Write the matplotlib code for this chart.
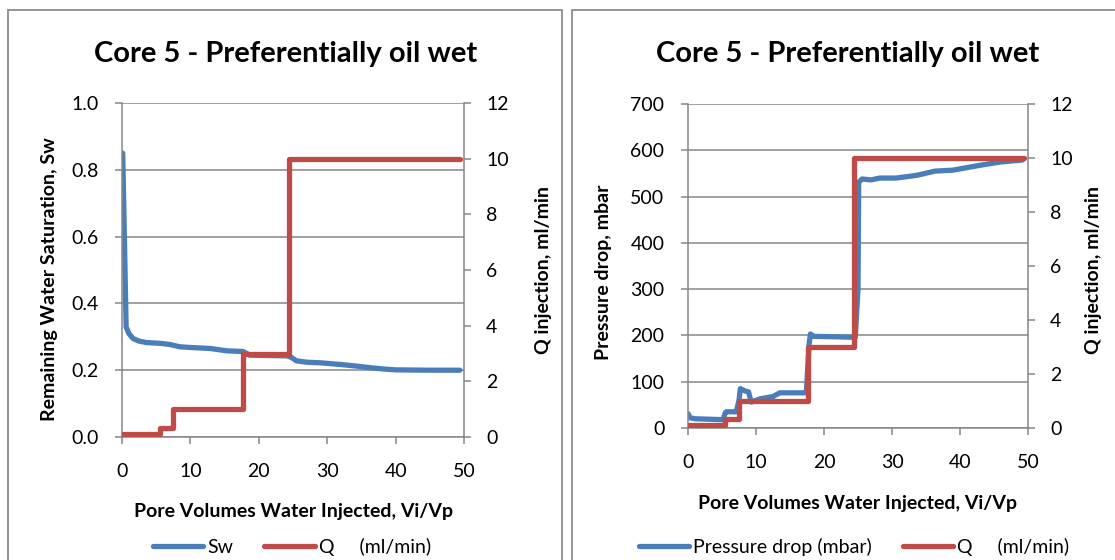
import matplotlib
matplotlib.use('Agg')
import matplotlib.pyplot as plt
from matplotlib.patches import Rectangle

plt.rcParams['font.family'] = ['Lato', 'DejaVu Sans']

# pore volumes injected vs remaining water saturation
sw_x = [0.1, 0.35, 0.6, 1.0, 1.6, 2.5, 3.5, 5.8, 7.0, 8.5, 10, 12.9, 15.3, 17.7,
        18.7, 21, 24.1, 24.8, 25.5, 27, 29.1, 32, 34.4, 36.5, 38.6, 40, 45, 49.4]
sw_y = [0.85, 0.6, 0.33, 0.31, 0.295, 0.287, 0.283, 0.28, 0.277, 0.27, 0.268, 0.265,
        0.258, 0.256, 0.245, 0.244, 0.243, 0.238, 0.228, 0.224, 0.222, 0.217, 0.212,
        0.207, 0.203, 0.201, 0.2, 0.2]

# pressure drop (mbar)
dp_x = [0.0, 0.3, 1.0, 3.0, 5.2, 5.4, 5.6, 7.1, 7.5, 7.7, 8.4, 8.9, 9.3, 10.6, 12.5,
        13.5, 17.4, 17.8, 18.0, 18.5, 22.0, 24.6, 25.0, 25.1, 25.6, 26.9, 28.2, 30.6,
        33.7, 36.3, 38.9, 43.5, 46.1, 49.2]
dp_y = [31, 22, 20, 19, 18, 30, 35, 35, 60, 85, 80, 78, 56, 63, 68, 76, 76, 180, 203,
        198, 197, 196, 300, 531, 538, 536, 540, 540, 546, 555, 557, 569, 575, 579]

# injection rate steps, ml/min
q_x = [0.1, 5.5, 7.5, 17.7, 24.4, 49.4]
q_y = [0.12, 0.32, 1.0, 3.0, 10.0, 10.0]

blue = '#4A7EBB'
red = '#BE4B48'
grey = '#868686'

W, H = 1115, 560
fig = plt.figure(figsize=(W / 100, H / 100), dpi=100)

TICK = 14
LAB = 14
TITLE = 21


def fx(px):
    return px / W


def fy(py):
    return 1 - py / H


def make_axes(box, y1lim, y1ticks, y1fmt):
    l, t, r, b = box
    ax = fig.add_axes([fx(l), fy(b), fx(r) - fx(l), fy(t) - fy(b)])
    ax.set_xlim(0, 50)
    ax.set_ylim(*y1lim)
    ax.set_xticks([0, 10, 20, 30, 40, 50])
    ax.set_yticks(y1ticks)
    ax.set_yticklabels([y1fmt.format(v) for v in y1ticks])
    ax.grid(axis='y', color=grey, lw=1.1)
    ax.set_axisbelow(True)
    for s in ['top', 'right']:
        ax.spines[s].set_visible(False)
    for s in ['left', 'bottom']:
        ax.spines[s].set_color(grey)
        ax.spines[s].set_linewidth(1.1)
    ax.tick_params(axis='y', direction='out', length=5, width=1.1, color=grey,
                   labelsize=TICK, pad=12)
    ax.tick_params(axis='x', direction='out', length=5, width=1.1, color=grey,
                   labelsize=TICK, pad=14)
    ax2 = ax.twinx()
    ax2.set_ylim(0, 12)
    ax2.set_yticks([0, 2, 4, 6, 8, 10, 12])
    for s in ['top', 'left', 'bottom']:
        ax2.spines[s].set_visible(False)
    ax2.spines['right'].set_color(grey)
    ax2.spines['right'].set_linewidth(1.1)
    ax2.tick_params(axis='y', direction='out', length=5, width=1.1, color=grey,
                    labelsize=TICK, pad=11)
    return ax, ax2


line_kw = dict(lw=3.8, solid_capstyle='round', solid_joinstyle='round')
leg_kw = dict(loc='center', ncol=2, frameon=False, fontsize=TICK, handlelength=2.6,
              handletextpad=0.2, columnspacing=1.6, borderpad=0)
q_label = 'Q     (ml/min)'

# ---- left panel
ax, ax2 = make_axes((122, 103, 464, 437), (0, 1), [0, 0.2, 0.4, 0.6, 0.8, 1.0], '{:.1f}')
l1, = ax.plot(sw_x, sw_y, color=blue, label='Sw', **line_kw)
l2, = ax2.plot(q_x, q_y, color=red, drawstyle='steps-post', label=q_label, **line_kw)
fig.text(fx(286), fy(62), 'Core 5 - Preferentially oil wet', ha='center', va='baseline',
         fontsize=TITLE, fontweight='bold')
fig.text(fx(50), fy(279), 'Remaining Water Saturation, Sw', rotation=90, ha='center',
         va='center', fontsize=LAB, fontweight='bold')
fig.text(fx(543), fy(270), 'Q injection, ml/min', rotation=90, ha='center',
         va='center', fontsize=LAB, fontweight='bold')
fig.text(fx(293), fy(517), 'Pore Volumes Water Injected, Vi/Vp', ha='center',
         va='baseline', fontsize=LAB, fontweight='bold')
fig.legend(handles=[l1, l2], bbox_to_anchor=(fx(292), fy(547)), **leg_kw)

# ---- right panel
bx, bx2 = make_axes((688, 104, 1028, 428), (0, 700), list(range(0, 701, 100)), '{:.0f}')
l3, = bx.plot(dp_x, dp_y, color=blue, label='Pressure drop (mbar)', **line_kw)
l4, = bx2.plot(q_x, q_y, color=red, drawstyle='steps-post', label=q_label, **line_kw)
fig.text(fx(848), fy(62), 'Core 5 - Preferentially oil wet', ha='center', va='baseline',
         fontsize=TITLE, fontweight='bold')
fig.text(fx(603), fy(272), 'Pressure drop, mbar', rotation=90, ha='center',
         va='center', fontsize=LAB, fontweight='bold')
fig.text(fx(1093), fy(270), 'Q injection, ml/min', rotation=90, ha='center',
         va='center', fontsize=LAB, fontweight='bold')
fig.text(fx(858), fy(509), 'Pore Volumes Water Injected, Vi/Vp', ha='center',
         va='baseline', fontsize=LAB, fontweight='bold')
fig.legend(handles=[l3, l4], bbox_to_anchor=(fx(854), fy(547)), **leg_kw)

# chart area borders
for x0, x1 in [(8, 562), (572, 1125)]:
    fig.patches.append(Rectangle((fx(x0), fy(580)), fx(x1) - fx(x0), fy(10) - fy(580),
                                 transform=fig.transFigure, fill=False,
                                 edgecolor='#8C8C8C', lw=1.3))

fig.savefig('out.png', dpi=100)
